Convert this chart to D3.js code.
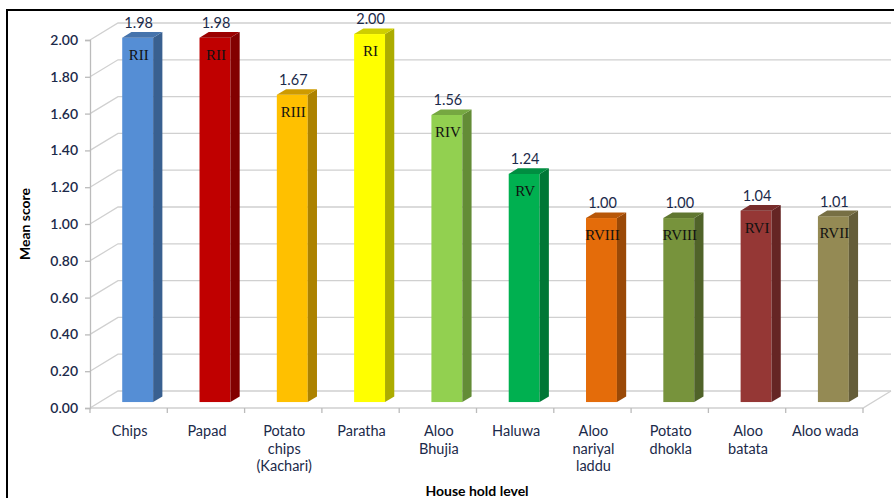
<!DOCTYPE html>
<html>
<head>
<meta charset="utf-8">
<script src="https://cdn.jsdelivr.net/npm/d3@7"></script>
<style>
	body { margin: 0; background: #fff; }
	svg { display: block; }
	text { font-family: Lato, "Open Sans", sans-serif; }
</style>
</head>
<body>
<div id="chart"></div>
<script>
// Data
const categories = ["Chips", "Papad", "Potato chips (Kachari)", "Paratha", "Aloo Bhujia", "Haluwa", "Aloo nariyal laddu", "Potato dhokla", "Aloo batata", "Aloo wada"];
const categoryLines = [["Chips"], ["Papad"], ["Potato", "chips", "(Kachari)"], ["Paratha"], ["Aloo", "Bhujia"], ["Haluwa"], ["Aloo", "nariyal", "laddu"], ["Potato", "dhokla"], ["Aloo", "batata"], ["Aloo wada"]];
const meanScores = [1.98, 1.98, 1.67, 2.00, 1.56, 1.24, 1.00, 1.00, 1.04, 1.01];
const ranks = ["RII", "RII", "RIII", "RI", "RIV", "RV", "RVIII", "RVIII", "RVI", "RVII"];
const barColors = ["#558ED5", "#C00000", "#FFC000", "#FFFF00", "#92D050", "#00B050", "#E46C0A", "#77933C", "#953735", "#948A54"];
const yTicks = [0, 0.2, 0.4, 0.6, 0.8, 1.0, 1.2, 1.4, 1.6, 1.8, 2.0];

const width = 894;
const height = 498;
const margin = { top: 40, left: 90, right: 31, bottom: 90 };

// 3D depth offset of back wall
const depth = { x: 28, y: -17 };

const svg = d3.select("#chart").append("svg")
	.attr("width", width)
	.attr("height", height);

// Outer frame
svg.append("rect")
	.attr("x", 7).attr("y", 10)
	.attr("width", 900).attr("height", 500)
	.attr("fill", "none")
	.attr("stroke", "#000")
	.attr("stroke-width", 2);

const xScale = d3.scaleBand()
	.domain(categories)
	.range([margin.left, width - margin.right])
	.padding(0);

const yScale = d3.scaleLinear()
	.domain([0, 2])
	.range([height - margin.bottom, margin.top]);

const gridColor = "#d0d0d0";
const x0 = margin.left;
const x1 = width - margin.right;
const y0 = yScale(0);

// Gridlines on side wall and back wall
const grid = svg.append("g").attr("class", "grid");
yTicks.forEach(function(t) {
	const y = yScale(t);
	grid.append("path")
		.attr("d", "M" + x0 + "," + y + "L" + (x0 + depth.x) + "," + (y + depth.y) + "L" + (x1 + depth.x) + "," + (y + depth.y))
		.attr("fill", "none")
		.attr("stroke", gridColor)
		.attr("stroke-width", 1.3);
});

// Floor front and right edge
grid.append("path")
	.attr("d", "M" + x0 + "," + y0 + "L" + x1 + "," + y0 + "L" + (x1 + depth.x) + "," + (y0 + depth.y))
	.attr("fill", "none")
	.attr("stroke", gridColor)
	.attr("stroke-width", 1.3);

// Y axis
const yAxis = d3.axisLeft(yScale)
	.tickValues(yTicks)
	.tickFormat(d3.format(".2f"))
	.tickSize(5)
	.tickPadding(7);

const yG = svg.append("g")
	.attr("transform", "translate(" + x0 + ",0)")
	.call(yAxis);
yG.select(".domain").attr("stroke", "#bbbbbb").attr("stroke-width", 1.3);
yG.selectAll(".tick line").attr("stroke", "#bbbbbb").attr("stroke-width", 1.3);
yG.selectAll(".tick text")
	.attr("fill", "#1b2a4a")
	.style("font-size", "14px")
	.style("font-weight", "600");

// X axis tick marks at band boundaries
const xAxis = d3.axisBottom(xScale).tickSize(5).tickFormat("");
const xG = svg.append("g")
	.attr("transform", "translate(0," + y0 + ")")
	.call(xAxis);
xG.select(".domain").remove();
xG.selectAll(".tick line")
	.attr("transform", "translate(" + (-xScale.bandwidth() / 2) + ",0)")
	.attr("stroke", "#bbbbbb")
	.attr("stroke-width", 1.3);
xG.append("line")
	.attr("x1", x1).attr("x2", x1)
	.attr("y1", 0).attr("y2", 5)
	.attr("stroke", "#bbbbbb")
	.attr("stroke-width", 1.3);

// Category labels
const labels = svg.append("g").attr("class", "xLabels");
categories.forEach(function(c, i) {
	const t = labels.append("text")
		.attr("x", xScale(c) + xScale.bandwidth() / 2 + 1)
		.attr("y", y0 + 28)
		.attr("text-anchor", "middle")
		.attr("fill", "#1b2a4a")
		.style("font-size", "14.5px");
	categoryLines[i].forEach(function(line, j) {
		t.append("tspan")
			.attr("x", xScale(c) + xScale.bandwidth() / 2 + 1)
			.attr("dy", j === 0 ? 0 : 17.5)
			.text(line);
	});
});

// Bars
const bw = xScale.bandwidth();
const barW = bw * 0.40;
const frontShift = 0.35; // depth position of bar front face
const barDepth = 0.33;   // bar depth as fraction of wall depth
const sx = depth.x * barDepth;
const sy = depth.y * barDepth;

const bars = svg.append("g").attr("class", "bars")
	.selectAll("g")
	.data(categories.map(function(c, i) {
		return { key: c, value: meanScores[i], rank: ranks[i], color: barColors[i] };
	}))
	.enter().append("g");

bars.each(function(d) {
	const g = d3.select(this);
	const left = xScale(d.key) + bw * 0.29 + depth.x * frontShift;
	const right = left + barW;
	const top = yScale(d.value) + depth.y * frontShift;
	const bottom = y0 + depth.y * frontShift;
	const c = d3.color(d.color);

	g.append("rect")
		.attr("x", left).attr("y", top)
		.attr("width", barW).attr("height", bottom - top)
		.attr("fill", d.color);

	g.append("path")
		.attr("d", "M" + right + "," + top + "L" + (right + sx) + "," + (top + sy) + "L" + (right + sx) + "," + (bottom + sy) + "L" + right + "," + bottom + "Z")
		.attr("fill", c.darker(1.1));

	g.append("path")
		.attr("d", "M" + left + "," + top + "L" + right + "," + top + "L" + (right + sx) + "," + (top + sy) + "L" + (left + sx) + "," + (top + sy) + "Z")
		.attr("fill", c.darker(0.6));

	g.append("text")
		.attr("x", left + barW / 2 + 1)
		.attr("y", top + sy - 4)
		.attr("text-anchor", "middle")
		.attr("fill", "#1b2a4a")
		.style("font-size", "14.5px")
		.text(d3.format(".2f")(d.value));

	g.append("text")
		.attr("x", left + barW / 2 + 1)
		.attr("y", top + 22)
		.attr("text-anchor", "middle")
		.attr("fill", "#111")
		.style("font-family", "'Liberation Serif', 'DejaVu Serif', serif")
		.style("font-size", "15px")
		.text(d.rank);
});

// Axis titles
svg.append("text")
	.attr("transform", "translate(30," + 224 + ") rotate(-90)")
	.attr("text-anchor", "middle")
	.attr("fill", "#000")
	.style("font-size", "14px")
	.style("font-weight", "bold")
	.text("Mean score");

svg.append("text")
	.attr("x", 477)
	.attr("y", 496)
	.attr("text-anchor", "middle")
	.attr("fill", "#000")
	.style("font-size", "14px")
	.style("font-weight", "bold")
	.text("House hold level");
</script>
</body>
</html>
